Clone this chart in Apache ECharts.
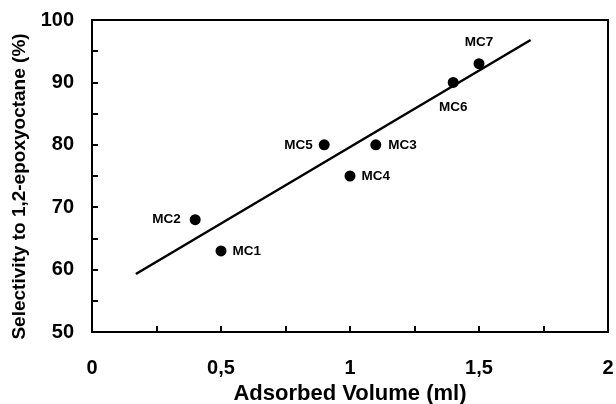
<!DOCTYPE html>
<html><head><meta charset="utf-8">
<script src="https://cdn.jsdelivr.net/npm/echarts@6/dist/echarts.min.js"></script>
<style>html,body{margin:0;padding:0;background:#fff}#c{width:616px;height:404px}</style>
</head><body><div id="c"></div>
<script>
const sampleNames = ['MC1','MC2','MC3','MC4','MC5','MC6','MC7'];
const adsorbedVolume = [0.5, 0.4, 1.1, 1.0, 0.9, 1.4, 1.5];
const selectivity = [63, 68, 80, 75, 80, 90, 93];
const labelSide = ['right','left','right','right','left','bottom','top'];
const labelGap = [6, 9, 7, 6, 6, 12, 9];
const fitLineX = [0.17, 1.70];
const fitLineY = [59.3, 96.8];

const font = '"Liberation Sans", Arial, sans-serif';
const chart = echarts.init(document.getElementById('c'), null, {renderer:'canvas'});
const pts = sampleNames.map((n,i)=>({
  value:[adsorbedVolume[i], selectivity[i]], name:n,
  label:{position: labelSide[i], distance: labelGap[i]}
}));
chart.setOption({
  animation:false,
  backgroundColor:'#fff',
  grid:{left:92,right:8,top:20,bottom:72,containLabel:false,outerBoundsMode:'none',
    show:true,borderColor:'#000',borderWidth:2,backgroundColor:'transparent'},
  xAxis:{type:'value',min:0,max:2,interval:0.5,
    name:'Adsorbed Volume (ml)',nameLocation:'middle',nameGap:45,
    nameTextStyle:{fontFamily:font,fontWeight:'bold',fontSize:22,color:'#000'},
    axisLine:{show:true,onZero:false,lineStyle:{color:'#000',width:2}},
    axisTick:{show:true,inside:true,length:6,lineStyle:{color:'#000',width:2}},
    minorTick:{show:true,splitNumber:2,length:6,lineStyle:{color:'#000',width:2}},
    splitLine:{show:false},
    axisLabel:{margin:26,fontFamily:font,fontWeight:'bold',fontSize:20,color:'#000',
      formatter:v=>String(v).replace('.',',')}
  },
  yAxis:{type:'value',min:50,max:100,interval:10,
    name:'Selectivity to 1,2-epoxyoctane (%)',nameLocation:'middle',nameGap:52,
    nameTextStyle:{fontFamily:font,fontWeight:'bold',fontSize:19,color:'#000',padding:[0,21,0,0]},
    axisLine:{show:true,onZero:false,lineStyle:{color:'#000',width:2}},
    axisTick:{show:true,inside:true,length:6,lineStyle:{color:'#000',width:2}},
    minorTick:{show:true,splitNumber:2,length:6,lineStyle:{color:'#000',width:2}},
    splitLine:{show:false},
    axisLabel:{margin:18,fontFamily:font,fontWeight:'bold',fontSize:20,color:'#000'}
  },
  series:[
    {type:'line',data:fitLineX.map((x,i)=>[x,fitLineY[i]]),showSymbol:false,symbol:'none',
      lineStyle:{color:'#000',width:2.5},z:2},
    {type:'scatter',data:pts,symbol:'circle',symbolSize:11,itemStyle:{color:'#000',opacity:1},z:3,
      label:{show:true,formatter:p=>p.name,fontFamily:font,fontWeight:'bold',fontSize:13.5,color:'#000'}}
  ]
});
</script></body></html>
